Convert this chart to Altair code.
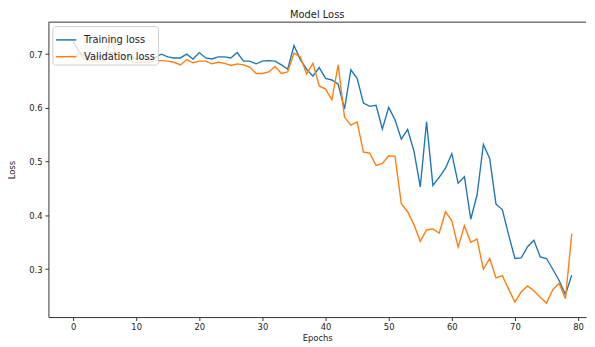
import altair as alt
import pandas as pd

epochs = list(range(80))

training_loss = [
    0.724, 0.704, 0.696, 0.696, 0.695, 0.697, 0.703, 0.702, 0.698, 0.696,
    0.691, 0.694, 0.690, 0.694, 0.700, 0.695, 0.693, 0.693, 0.700, 0.691,
    0.703, 0.693, 0.691, 0.695, 0.695, 0.693, 0.703, 0.687, 0.687, 0.682,
    0.687, 0.688, 0.687, 0.680, 0.672, 0.716, 0.690, 0.672, 0.659, 0.675,
    0.655, 0.652, 0.644, 0.598, 0.671, 0.655, 0.609, 0.603, 0.605, 0.561,
    0.601, 0.578, 0.542, 0.560, 0.520, 0.453, 0.574, 0.456, 0.471, 0.488,
    0.515, 0.460, 0.472, 0.393, 0.438, 0.532, 0.506, 0.421, 0.411, 0.364,
    0.320, 0.321, 0.342, 0.354, 0.323, 0.320, 0.300, 0.279, 0.253, 0.289,
]

validation_loss = [
    0.690, 0.703, 0.689, 0.687, 0.687, 0.687, 0.733, 0.690, 0.690, 0.688,
    0.684, 0.685, 0.685, 0.688, 0.688, 0.687, 0.685, 0.680, 0.690, 0.684,
    0.687, 0.687, 0.682, 0.685, 0.683, 0.679, 0.682, 0.680, 0.676, 0.664,
    0.664, 0.667, 0.677, 0.664, 0.667, 0.702, 0.695, 0.663, 0.683, 0.641,
    0.635, 0.615, 0.680, 0.583, 0.568, 0.574, 0.518, 0.516, 0.493, 0.497,
    0.511, 0.510, 0.422, 0.407, 0.383, 0.352, 0.373, 0.375, 0.367, 0.407,
    0.390, 0.341, 0.381, 0.350, 0.356, 0.300, 0.320, 0.284, 0.288, 0.263,
    0.239, 0.258, 0.269, 0.260, 0.248, 0.237, 0.262, 0.274, 0.245, 0.366,
]

series_names = ["Training loss", "Validation loss"]
series_colors = ["#1f77b4", "#ff7f0e"]
x_ticks = [0, 10, 20, 30, 40, 50, 60, 70, 80]
y_ticks = [0.3, 0.4, 0.5, 0.6, 0.7]

df = pd.DataFrame(
    {
        "Epoch": epochs * 2,
        "Loss": training_loss + validation_loss,
        "Series": [series_names[0]] * 80 + [series_names[1]] * 80,
    }
)

W, H = 545, 299
FONT = "DejaVu Sans"
AX = "#333333"

lines = (
    alt.Chart(df)
    .mark_line(strokeWidth=1.4, clip=True)
    .encode(
        x=alt.X(
            "Epoch:Q",
            scale=alt.Scale(domain=[-3.9, 81.26], nice=False, zero=False),
            axis=alt.Axis(
                values=x_ticks,
                title="Epochs",
                grid=False,
                tickSize=3.5,
                labelPadding=2,
                titlePadding=3,
            ),
        ),
        y=alt.Y(
            "Loss:Q",
            scale=alt.Scale(domain=[0.211, 0.7596], nice=False, zero=False),
            axis=alt.Axis(
                values=y_ticks,
                format=".1f",
                title="Loss",
                grid=False,
                tickSize=3.5,
                labelPadding=3,
                titlePadding=12,
            ),
        ),
        color=alt.Color(
            "Series:N",
            scale=alt.Scale(domain=series_names, range=series_colors),
            legend=alt.Legend(
                title=None,
                orient="top-left",
                offset=4,
                symbolType="stroke",
                symbolSize=420,
                symbolStrokeWidth=1.5,
                labelFontSize=10,
                labelFont=FONT,
                labelColor="#222222",
                labelOffset=7,
                rowPadding=1,
                fillColor="rgba(255,255,255,0.8)",
                strokeColor="#cccccc",
                cornerRadius=3,
                padding=3,
            ),
        ),
        order="Series:N",
    )
)

top_spine = (
    alt.Chart(pd.DataFrame({"a": [0]}))
    .mark_rule(color=AX, strokeWidth=1)
    .encode(x=alt.value(0), x2=alt.value(W), y=alt.value(0))
)

chart = (
    alt.layer(lines, top_spine)
    .properties(
        width=W,
        height=H,
        title=alt.TitleParams("Model Loss", fontSize=10, font=FONT, fontWeight="normal", color="#222222", offset=2),
        autosize=alt.AutoSizeParams(type="none"),
        padding={"left": 41, "top": 12, "right": 1, "bottom": 28},
    )
    .configure_view(stroke=None)
    .configure_axis(
        domainColor=AX,
        tickColor=AX,
        labelColor="#222222",
        titleColor="#222222",
        labelFont=FONT,
        titleFont=FONT,
        labelFontSize=8.5,
        titleFontSize=8.5,
        titleFontWeight="normal",
        domainWidth=1,
    )
)

chart.save("out.html", embed_options={"renderer": "svg", "actions": False})
